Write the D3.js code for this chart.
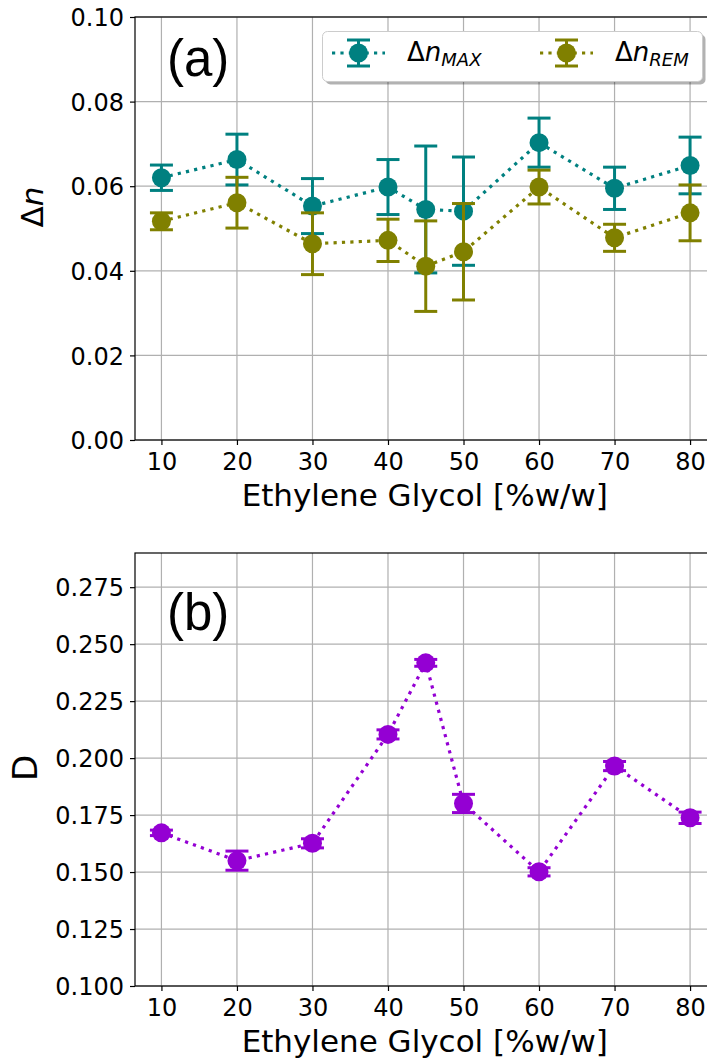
<!DOCTYPE html>
<html>
<head>
<meta charset="utf-8">
<script src="https://cdn.jsdelivr.net/npm/d3@7"></script>
<style>
  body { margin: 0; background: #fff; }
  svg { display: block; }
</style>
</head>
<body>
<svg id="chart" width="707" height="1061"></svg>
<script>
// ethylene glycol concentration, %w/w
var conc = [10, 20, 30, 40, 45, 50, 60, 70, 80];

// panel (a)
var dnMax    = [0.0620, 0.0663, 0.0553, 0.0598, 0.0545, 0.0541, 0.0703, 0.0595, 0.0649];
var dnMaxErr = [0.0030, 0.0060, 0.0065, 0.0065, 0.0150, 0.0128, 0.0058, 0.0050, 0.0067];
var dnRem    = [0.0517, 0.0561, 0.0464, 0.0472, 0.0411, 0.0445, 0.0598, 0.0478, 0.0537];
var dnRemErr = [0.0020, 0.0060, 0.0073, 0.0050, 0.0107, 0.0114, 0.0040, 0.0032, 0.0066];

// panel (b)
var dVal = [0.1672, 0.1550, 0.1626, 0.2104, 0.2418, 0.1801, 0.1501, 0.1965, 0.1738];
var dErr = [0.0012, 0.0042, 0.0020, 0.0020, 0.0015, 0.0040, 0.0018, 0.0020, 0.0025];

var xTicks  = [10, 20, 30, 40, 50, 60, 70, 80];
var yTicksA = [0.00, 0.02, 0.04, 0.06, 0.08, 0.10];
var yTicksB = [0.100, 0.125, 0.150, 0.175, 0.200, 0.225, 0.250, 0.275];

var svg = d3.select("#chart");
var FONT = "DejaVu Sans, sans-serif";

var left = 135, right = 716.5;
var x = d3.scaleLinear().domain([6.5, 83.5]).range([left, right]);

function drawPanel(top, bottom, yDomain, yTicks, fmt) {
    var y = d3.scaleLinear().domain(yDomain).range([bottom, top]);
    var g = svg.append("g");

    // grid
    g.selectAll(".gx").data(xTicks).enter().append("line")
        .attr("x1", function (d) { return x(d); })
        .attr("x2", function (d) { return x(d); })
        .attr("y1", top).attr("y2", bottom)
        .attr("stroke", "#b0b0b0").attr("stroke-width", 1.2);
    g.selectAll(".gy").data(yTicks).enter().append("line")
        .attr("y1", function (d) { return y(d); })
        .attr("y2", function (d) { return y(d); })
        .attr("x1", left).attr("x2", right)
        .attr("stroke", "#b0b0b0").attr("stroke-width", 1.2);

    // axes
    var xAxis = d3.axisBottom(x).tickValues(xTicks).tickSize(5).tickPadding(8).tickFormat(d3.format("d"));
    var yAxis = d3.axisLeft(y).tickValues(yTicks).tickSize(5).tickPadding(6).tickFormat(d3.format(fmt));
    var gx = g.append("g").attr("transform", "translate(0," + bottom + ")").call(xAxis);
    var gy = g.append("g").attr("transform", "translate(" + left + ",0)").call(yAxis);
    [gx, gy].forEach(function (a) {
        a.select(".domain").remove();
        a.selectAll("line").attr("stroke", "#000").attr("stroke-width", 1.2);
        a.selectAll("text").attr("font-family", FONT).attr("font-size", "24px").attr("fill", "#000");
    });
    gx.selectAll("text").attr("dy", "0.71em");
    gy.selectAll("text").attr("dy", "0.36em");

    // spines
    g.append("rect").attr("x", left).attr("y", top)
        .attr("width", right - left).attr("height", bottom - top)
        .attr("fill", "none").attr("stroke", "#000").attr("stroke-width", 1.2);

    g.append("text")
        .attr("x", (left + right) / 2 - 1).attr("y", bottom + 66)
        .attr("text-anchor", "middle")
        .attr("font-family", FONT).attr("font-size", "31px")
        .text("Ethylene Glycol [%w/w]");
    return y;
}

function drawSeries(y, vals, errs, color) {
    var g = svg.append("g");
    var line = d3.line().x(function (d, i) { return x(conc[i]); }).y(function (d) { return y(d); });
    g.append("path").datum(vals).attr("d", line)
        .attr("fill", "none").attr("stroke", color)
        .attr("stroke-width", 3.2).attr("stroke-dasharray", "3.2,5.2");

    var pts = conc.map(function (c, i) { return { c: c, v: vals[i], e: errs[i] }; });
    g.selectAll(".eb").data(pts).enter().append("line")
        .attr("x1", function (d) { return x(d.c); }).attr("x2", function (d) { return x(d.c); })
        .attr("y1", function (d) { return y(d.v - d.e); }).attr("y2", function (d) { return y(d.v + d.e); })
        .attr("stroke", color).attr("stroke-width", 3);
    [-1, 1].forEach(function (s) {
        g.selectAll(".cap" + s).data(pts).enter().append("line")
            .attr("x1", function (d) { return x(d.c) - 11.5; }).attr("x2", function (d) { return x(d.c) + 11.5; })
            .attr("y1", function (d) { return y(d.v + s * d.e); }).attr("y2", function (d) { return y(d.v + s * d.e); })
            .attr("stroke", color).attr("stroke-width", 3);
    });
    g.selectAll(".pt").data(pts).enter().append("circle")
        .attr("cx", function (d) { return x(d.c); })
        .attr("cy", function (d) { return y(d.v); })
        .attr("r", 9.5).attr("fill", color);
}

// ---- panel (a)
var yA = drawPanel(17, 440, [0, 0.1], yTicksA, ".2f");
drawSeries(yA, dnMax, dnMaxErr, "#008080");
drawSeries(yA, dnRem, dnRemErr, "#808000");

svg.append("text")
    .attr("transform", "rotate(-90,43,207)")
    .attr("x", 43).attr("y", 207)
    .attr("text-anchor", "middle")
    .attr("font-family", FONT).attr("font-size", "31px")
    .html('&#916;<tspan font-style="italic">n</tspan>');

svg.append("text").attr("x", 167).attr("y", 76)
    .attr("font-family", "Liberation Sans, Arial, sans-serif").attr("font-size", "51px")
    .text("(a)");

// legend
var leg = svg.append("g");
leg.append("rect").attr("x", 325.5).attr("y", 34.5).attr("width", 380).attr("height", 50)
    .attr("rx", 5).attr("fill", "#000").attr("opacity", 0.3);
leg.append("rect").attr("x", 322.5).attr("y", 31.5).attr("width", 380).attr("height", 50)
    .attr("rx", 5).attr("fill", "#fff").attr("stroke", "#cccccc").attr("stroke-width", 1);

var legItems = [
    { name: "MAX", color: "#008080", x0: 332 },
    { name: "REM", color: "#808000", x0: 540 }
];
legItems.forEach(function (it) {
    var cy = 53, cx = it.x0 + 26.5;
    leg.append("line").attr("x1", it.x0).attr("x2", it.x0 + 53).attr("y1", cy).attr("y2", cy)
        .attr("stroke", it.color).attr("stroke-width", 3.2).attr("stroke-dasharray", "3.2,5.2");
    leg.append("line").attr("x1", cx).attr("x2", cx).attr("y1", cy - 13).attr("y2", cy + 13)
        .attr("stroke", it.color).attr("stroke-width", 3);
    [-13, 13].forEach(function (o) {
        leg.append("line").attr("x1", cx - 11.5).attr("x2", cx + 11.5).attr("y1", cy + o).attr("y2", cy + o)
            .attr("stroke", it.color).attr("stroke-width", 3);
    });
    leg.append("circle").attr("cx", cx).attr("cy", cy).attr("r", 9.5).attr("fill", it.color);
    leg.append("text").attr("x", it.x0 + 75).attr("y", cy + 8)
        .attr("font-family", FONT).attr("font-size", "26px")
        .html('&#916;<tspan font-style="italic">n</tspan><tspan font-style="italic" font-size="18px" dy="5">' + it.name + '</tspan>');
});

// ---- panel (b)
var yB = drawPanel(553, 986, [0.1, 0.29], yTicksB, ".3f");
drawSeries(yB, dVal, dErr, "#9400d3");

svg.append("text")
    .attr("transform", "rotate(-90,37,768)")
    .attr("x", 37).attr("y", 768)
    .attr("text-anchor", "middle")
    .attr("font-family", FONT).attr("font-size", "34px")
    .text("D");

svg.append("text").attr("x", 167).attr("y", 630)
    .attr("font-family", "Liberation Sans, Arial, sans-serif").attr("font-size", "51px")
    .text("(b)");
</script>
</body>
</html>
